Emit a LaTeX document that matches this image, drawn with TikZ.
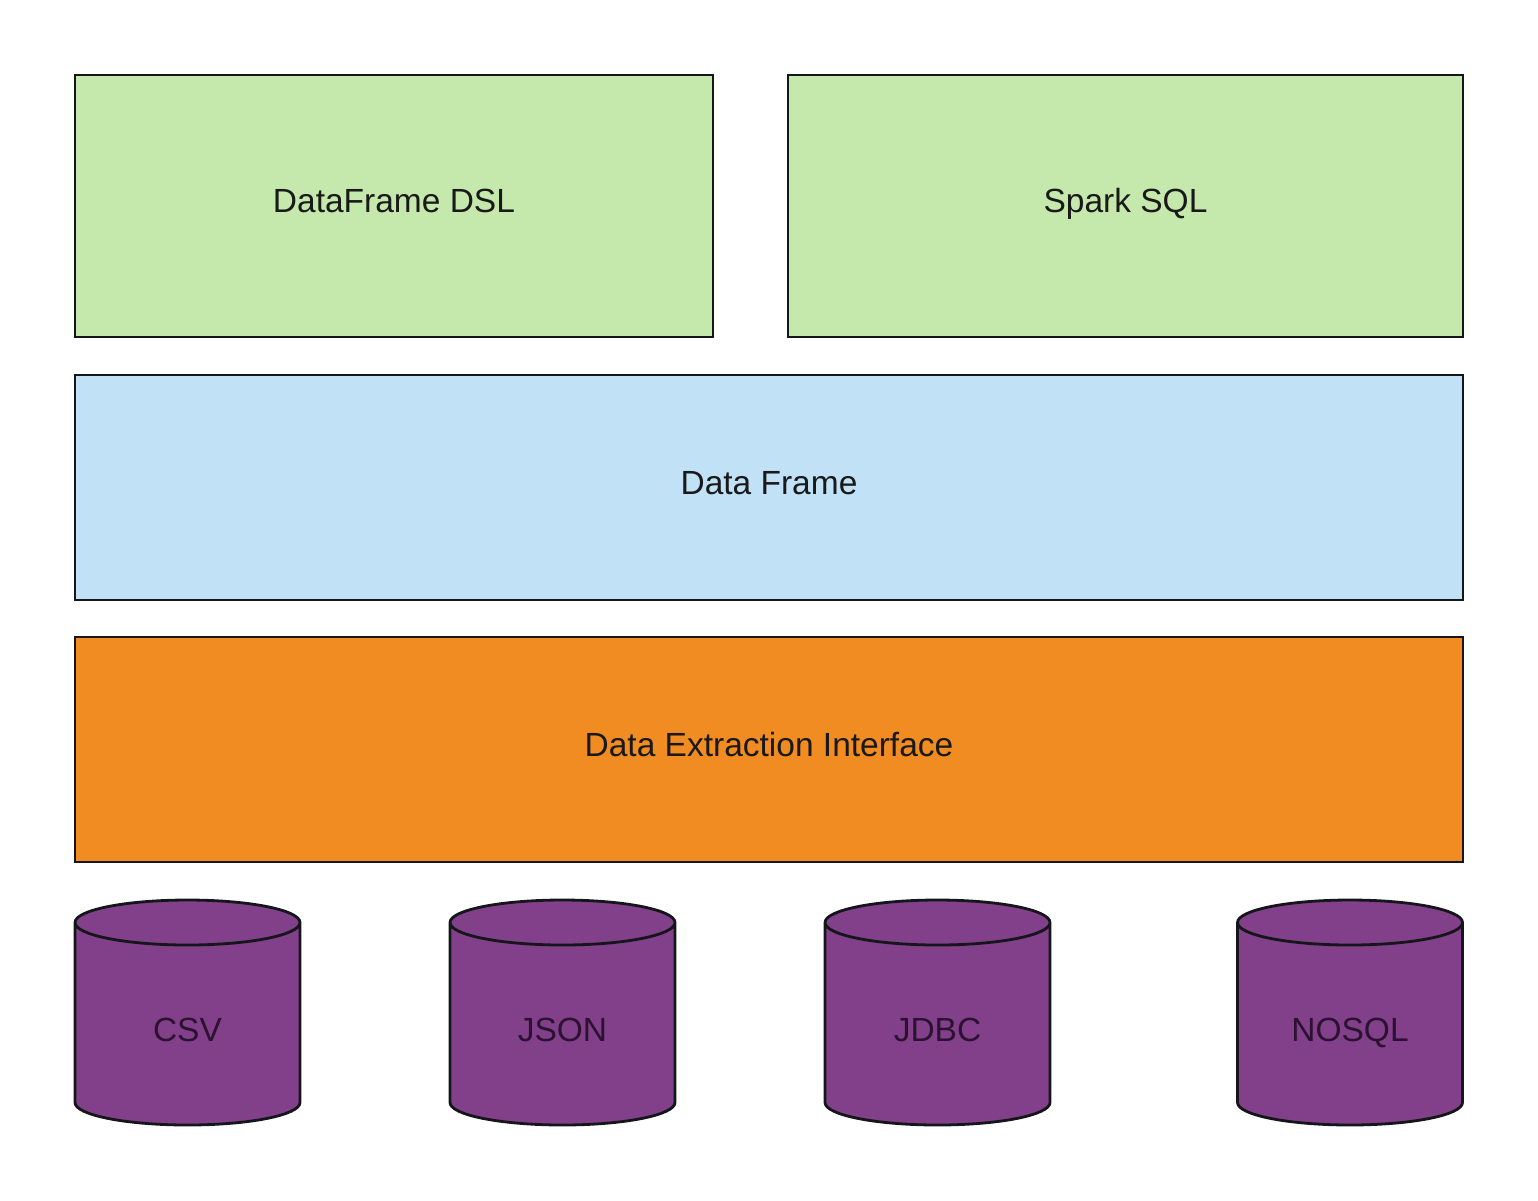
\documentclass[tikz,border=0pt]{standalone}
\usepackage{fontspec}
\setmainfont{Liberation Sans}
\usepackage{tikz}
\usetikzlibrary{shapes.geometric}
\definecolor{greenbox}{HTML}{C5E8AC}
\definecolor{bluebox}{HTML}{C1E2F6}
\definecolor{orangebox}{HTML}{F08C22}
\definecolor{purplebox}{HTML}{823F8A}
\definecolor{linecol}{HTML}{15161A}
\definecolor{storetext}{HTML}{2A1230}
\begin{document}
\begin{tikzpicture}[x=1pt,y=-1pt]
    \tikzstyle{every node} = [draw=linecol, line width=2.8pt, outer sep=0pt, inner sep=0pt, text=black!90, font=\fontsize{33.5}{40}\selectfont, text height=21pt, text depth=8pt]
    \tikzstyle{layerbox} = [shape=rectangle, minimum height=225pt]
    \tikzstyle{store} = [shape=cylinder, shape border rotate=90, aspect=0.2, fill=purplebox, text=storetext, text width=225pt, align=center, text height=42pt, minimum width=225pt, minimum height=225pt, anchor=shape center]
    \useasboundingbox (0,0) rectangle (1538,1200);
    \node[layerbox, fill=greenbox, minimum width=638pt, minimum height=262pt] (dsl) at (394,206) {DataFrame DSL};
    \node[layerbox, fill=greenbox, minimum width=675pt, minimum height=262pt] (sql) at (1125.5,206) {Spark SQL};
    \node[layerbox, fill=bluebox, minimum width=1388pt] (frame) at (769,487.5) {Data Frame};
    \node[layerbox, fill=orangebox, minimum width=1388pt] (extract) at (769,749.5) {Data Extraction Interface};
    \foreach \name/\px/\lbl in {csv/187.5/CSV, json/562.5/JSON, jdbc/937.5/JDBC, nosql/1350/NOSQL}
        \node[store] (\name) at (\px,1012.5) {\lbl};
\end{tikzpicture}
\end{document}
